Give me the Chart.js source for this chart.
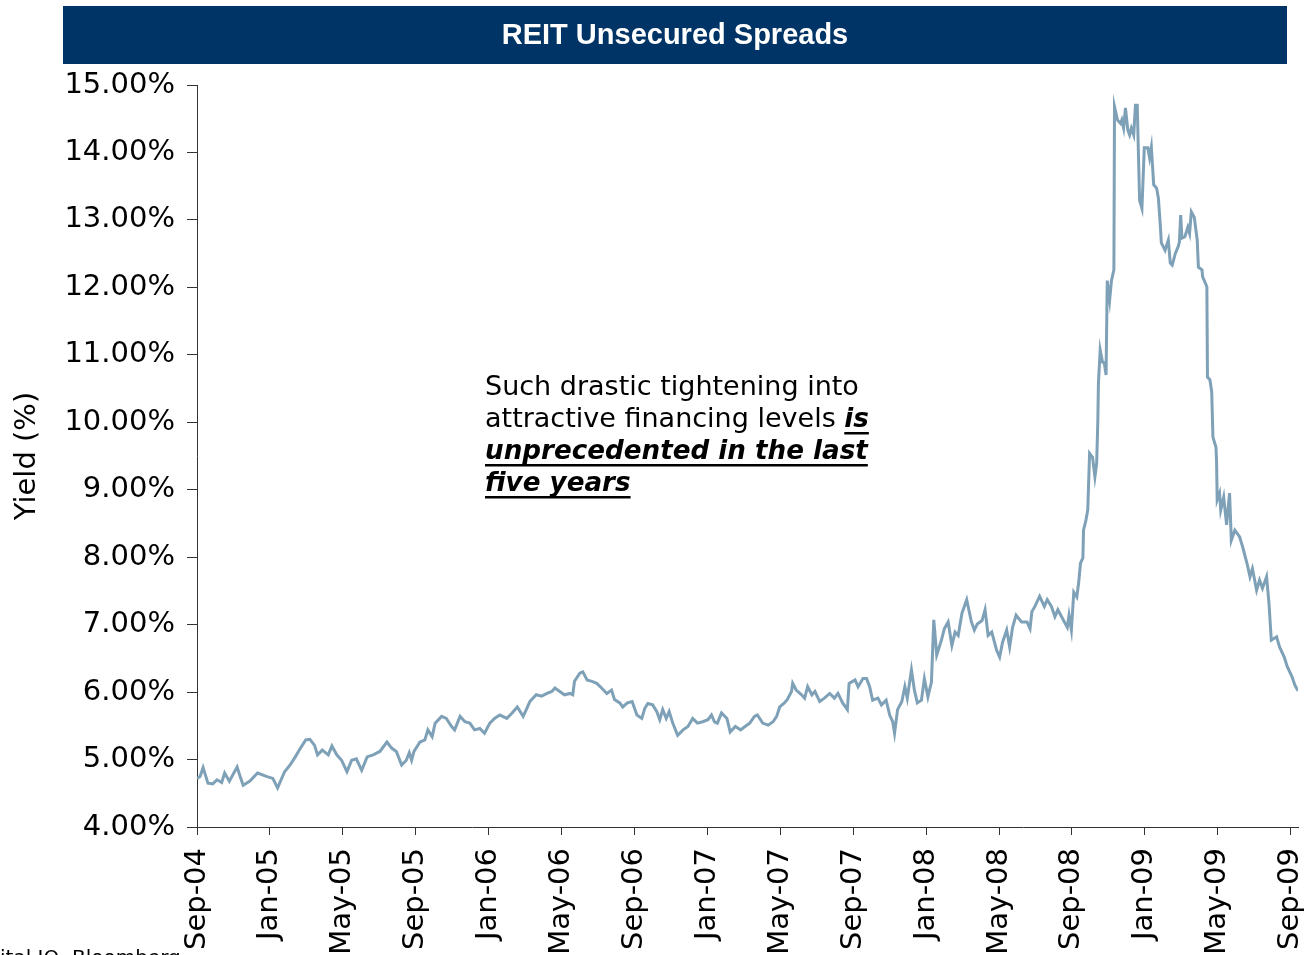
<!DOCTYPE html>
<html>
<head>
<meta charset="utf-8">
<title>REIT Unsecured Spreads</title>
<script src="https://cdn.jsdelivr.net/npm/chart.js@4.4.1/dist/chart.umd.min.js"></script>
<style>
  html, body { margin: 0; padding: 0; background: #fff; }
  canvas { display: block; }
</style>
</head>
<body>
<canvas id="spreadChart" width="1305" height="955"></canvas>
<script>
// x-axis labels, one every four months
const tickLabels = ["Sep-04", "Jan-05", "May-05", "Sep-05", "Jan-06", "May-06", "Sep-06", "Jan-07",
                    "May-07", "Sep-07", "Jan-08", "May-08", "Sep-08", "Jan-09", "May-09", "Sep-09"];

// observation dates (one row per month)
const dates = [
  "2004-09-01", "2004-09-06", "2004-09-11", "2004-09-19", "2004-09-27",
  "2004-10-04", "2004-10-12", "2004-10-17", "2004-10-25",
  "2004-11-07", "2004-11-12", "2004-11-17", "2004-11-28",
  "2004-12-11", "2004-12-26",
  "2005-01-06", "2005-01-14", "2005-01-26",
  "2005-02-04", "2005-02-12", "2005-02-20", "2005-02-28",
  "2005-03-07", "2005-03-15", "2005-03-20", "2005-03-28",
  "2005-04-07", "2005-04-13", "2005-04-21", "2005-04-29",
  "2005-05-08", "2005-05-16", "2005-05-24",
  "2005-06-02", "2005-06-11", "2005-06-21",
  "2005-07-02", "2005-07-14", "2005-07-22", "2005-07-30",
  "2005-08-08", "2005-08-16", "2005-08-21", "2005-08-25", "2005-08-29",
  "2005-09-08", "2005-09-16", "2005-09-21", "2005-09-28",
  "2005-10-03", "2005-10-14", "2005-10-22", "2005-10-31",
  "2005-11-05", "2005-11-14", "2005-11-22", "2005-11-30",
  "2005-12-08", "2005-12-17", "2005-12-25",
  "2006-01-03", "2006-01-11", "2006-01-20",
  "2006-02-01", "2006-02-09", "2006-02-17", "2006-02-26",
  "2006-03-04", "2006-03-09", "2006-03-20", "2006-03-29",
  "2006-04-07", "2006-04-15", "2006-04-20", "2006-04-28",
  "2006-05-06", "2006-05-15", "2006-05-20", "2006-05-23",
  "2006-06-01", "2006-06-06", "2006-06-13", "2006-06-21", "2006-06-29",
  "2006-07-07", "2006-07-16", "2006-07-24", "2006-07-29",
  "2006-08-07", "2006-08-12", "2006-08-20", "2006-08-28",
  "2006-09-05", "2006-09-13", "2006-09-18", "2006-09-23",
  "2006-10-01", "2006-10-08", "2006-10-13", "2006-10-18", "2006-10-24", "2006-10-29",
  "2006-11-04", "2006-11-12", "2006-11-21", "2006-11-29",
  "2006-12-07", "2006-12-15", "2006-12-24",
  "2007-01-02", "2007-01-08", "2007-01-13", "2007-01-18", "2007-01-25",
  "2007-02-03", "2007-02-08", "2007-02-16", "2007-02-24",
  "2007-03-03", "2007-03-11", "2007-03-19", "2007-03-24",
  "2007-04-02", "2007-04-11", "2007-04-19", "2007-04-25", "2007-04-30",
  "2007-05-08", "2007-05-13", "2007-05-20", "2007-05-22", "2007-05-28",
  "2007-06-06", "2007-06-11", "2007-06-16", "2007-06-23", "2007-06-28",
  "2007-07-06", "2007-07-14", "2007-07-23", "2007-07-31",
  "2007-08-06", "2007-08-14", "2007-08-22", "2007-08-25",
  "2007-09-04", "2007-09-09", "2007-09-17", "2007-09-23", "2007-09-28",
  "2007-10-03", "2007-10-12", "2007-10-18", "2007-10-26",
  "2007-11-01", "2007-11-06", "2007-11-09", "2007-11-14", "2007-11-21", "2007-11-26", "2007-11-30",
  "2007-12-07", "2007-12-12", "2007-12-17", "2007-12-24", "2007-12-29",
  "2008-01-04", "2008-01-10", "2008-01-14", "2008-01-19", "2008-01-27",
  "2008-02-01", "2008-02-07", "2008-02-13", "2008-02-18", "2008-02-23", "2008-02-29",
  "2008-03-08", "2008-03-16", "2008-03-21", "2008-03-26",
  "2008-04-03", "2008-04-08", "2008-04-13", "2008-04-19", "2008-04-27",
  "2008-05-02", "2008-05-07", "2008-05-14", "2008-05-19", "2008-05-24", "2008-05-30",
  "2008-06-08", "2008-06-17", "2008-06-22", "2008-06-25", "2008-06-30",
  "2008-07-08", "2008-07-16", "2008-07-21", "2008-07-28",
  "2008-08-03", "2008-08-08", "2008-08-16", "2008-08-24", "2008-08-27", "2008-08-31",
  "2008-09-04", "2008-09-09", "2008-09-12", "2008-09-15", "2008-09-19", "2008-09-20", "2008-09-24", "2008-09-27", "2008-09-30",
  "2008-10-05", "2008-10-09", "2008-10-12", "2008-10-14", "2008-10-15", "2008-10-18", "2008-10-22", "2008-10-25", "2008-10-28", "2008-10-30",
  "2008-11-03", "2008-11-06", "2008-11-10", "2008-11-11", "2008-11-16", "2008-11-21", "2008-11-23", "2008-11-26", "2008-11-29",
  "2008-12-03", "2008-12-06", "2008-12-09", "2008-12-13", "2008-12-16", "2008-12-19", "2008-12-23", "2008-12-27", "2008-12-31",
  "2009-01-06", "2009-01-09", "2009-01-12", "2009-01-16", "2009-01-21", "2009-01-24", "2009-01-27", "2009-01-29",
  "2009-02-04", "2009-02-09", "2009-02-12", "2009-02-15", "2009-02-20", "2009-02-24", "2009-02-26", "2009-02-28",
  "2009-03-02", "2009-03-07", "2009-03-12", "2009-03-15", "2009-03-18", "2009-03-23", "2009-03-28", "2009-03-30",
  "2009-04-05", "2009-04-06", "2009-04-13", "2009-04-14", "2009-04-18", "2009-04-21", "2009-04-23", "2009-04-28", "2009-04-29", "2009-04-30",
  "2009-05-04", "2009-05-06", "2009-05-11", "2009-05-16", "2009-05-21", "2009-05-24", "2009-05-30",
  "2009-06-07", "2009-06-12", "2009-06-19", "2009-06-24", "2009-06-28",
  "2009-07-05", "2009-07-10", "2009-07-15", "2009-07-22", "2009-07-26", "2009-07-30",
  "2009-08-08", "2009-08-13", "2009-08-21", "2009-08-26",
  "2009-09-03", "2009-09-08", "2009-09-13"
];

// yield in %, same rows as dates
const yields = [
  4.72, 4.75, 4.88, 4.65, 4.64,
  4.70, 4.66, 4.80, 4.68,
  4.89, 4.75, 4.62, 4.68,
  4.80, 4.75,
  4.72, 4.58, 4.82,
  4.92, 5.04, 5.17, 5.29,
  5.30, 5.21, 5.07, 5.14,
  5.07, 5.20, 5.07, 4.99,
  4.82, 4.99, 5.01,
  4.84, 5.04, 5.07,
  5.12, 5.26, 5.17, 5.12,
  4.92, 4.99, 5.10, 4.99, 5.12,
  5.26, 5.29, 5.44, 5.34,
  5.54, 5.64, 5.61, 5.49,
  5.44, 5.64, 5.56, 5.54,
  5.44, 5.46, 5.39,
  5.54, 5.61, 5.66,
  5.61, 5.69, 5.78, 5.64,
  5.76, 5.86, 5.96, 5.94,
  5.98, 6.01, 6.06, 6.01,
  5.96, 5.98, 5.96, 6.16,
  6.28, 6.30, 6.18, 6.16, 6.13,
  6.06, 5.98, 6.03, 5.89,
  5.84, 5.78, 5.84, 5.86,
  5.66, 5.61, 5.76, 5.83,
  5.81, 5.71, 5.59, 5.74, 5.61, 5.71,
  5.54, 5.36, 5.44, 5.49,
  5.61, 5.54, 5.56,
  5.59, 5.66, 5.56, 5.54, 5.69,
  5.61, 5.41, 5.49, 5.44,
  5.49, 5.54, 5.64, 5.66,
  5.54, 5.51, 5.56, 5.64, 5.78,
  5.84, 5.89, 6.01, 6.13, 6.03,
  5.96, 5.91, 6.08, 5.96, 6.01,
  5.86, 5.91, 5.98, 5.91,
  5.98, 5.84, 5.74, 6.13,
  6.18, 6.08, 6.20, 6.20, 6.08,
  5.88, 5.91, 5.81, 5.88,
  5.66, 5.56, 5.39, 5.74, 5.86, 6.08, 5.91,
  6.33, 6.03, 5.84, 5.88, 6.20,
  5.93, 6.15, 7.07, 6.55, 6.77,
  6.94, 7.04, 6.69, 6.89, 6.84, 7.17,
  7.37, 7.04, 6.92, 7.01,
  7.06, 7.22, 6.84, 6.89, 6.62,
  6.52, 6.74, 6.92, 6.67, 6.96, 7.14,
  7.04, 7.04, 6.94, 7.19, 7.27,
  7.42, 7.27, 7.37, 7.27,
  7.12, 7.22, 7.09, 6.96, 7.14, 6.92,
  7.48, 7.41, 7.62, 7.91, 7.99, 8.40, 8.55, 8.70, 9.54,
  9.48, 9.19, 9.39, 10.03, 10.58, 11.07, 10.89, 10.88, 10.70, 12.10,
  11.81, 12.10, 12.26, 14.68, 14.48, 14.43, 14.48, 14.36, 14.66,
  14.33, 14.26, 14.36, 14.26, 14.70, 14.70, 13.29, 13.17, 14.07,
  14.07, 13.92, 14.08, 13.52, 13.47, 13.32, 12.95, 12.66,
  12.55, 12.70, 12.36, 12.33, 12.51, 12.60, 12.67, 13.07,
  12.73, 12.75, 12.89, 12.80, 13.12, 13.04, 12.70, 12.30,
  12.26, 12.16, 12.01, 10.67, 10.63, 10.45, 9.78, 9.63, 9.41, 8.85,
  8.95, 8.70, 8.89, 8.48, 8.95, 8.25, 8.40,
  8.30, 8.15, 7.91, 7.71, 7.83,
  7.51, 7.66, 7.54, 7.71, 7.32, 6.77,
  6.82, 6.67, 6.52, 6.38,
  6.23, 6.10, 6.02
];

const FONT = '"DejaVu Sans", Verdana, sans-serif';

// months elapsed since 1 Sep 2004, with the day as a fraction of its month
function monthOffset(s) {
  const [y, m, d] = s.split('-').map(Number);
  const days = new Date(y, m, 0).getDate();
  return (y - 2004) * 12 + (m - 9) + (d - 1) / days;
}

const points = dates.map((d, i) => ({ x: monthOffset(d), y: yields[i] }));
const lastX = points[points.length - 1].x;

// navy header bar and white background
const headerBar = {
  id: 'headerBar',
  beforeDraw(chart) {
    const ctx = chart.ctx;
    ctx.save();
    ctx.fillStyle = '#fff';
    ctx.fillRect(0, 0, chart.width, chart.height);
    ctx.fillStyle = '#003466';
    ctx.fillRect(63, 6, 1224, 58);
    ctx.fillStyle = '#fff';
    ctx.font = 'bold 29px "Liberation Sans", Arial, sans-serif';
    ctx.textAlign = 'center';
    ctx.textBaseline = 'middle';
    ctx.fillText('REIT Unsecured Spreads', 675, 36);
    ctx.restore();
  }
};

// callout text and source line
const callout = {
  id: 'callout',
  afterDraw(chart) {
    const ctx = chart.ctx;
    const x = 485;
    const normal = '27px ' + FONT;
    const strong = 'italic bold 26.2px ' + FONT;
    ctx.save();
    ctx.fillStyle = '#000';
    ctx.textAlign = 'left';
    ctx.textBaseline = 'alphabetic';

    const underlined = (text, tx, ty) => {
      ctx.font = strong;
      ctx.fillText(text, tx, ty);
      ctx.fillRect(tx, ty + 5, ctx.measureText(text).width, 2.5);
    };

    ctx.font = normal;
    ctx.fillText('Such drastic tightening into', x, 395);
    const lead = 'attractive financing levels ';
    ctx.fillText(lead, x, 427);
    const leadW = ctx.measureText(lead).width;
    underlined('is', x + leadW, 427);
    underlined('unprecedented in the last', x, 459);
    underlined('five years', x, 491);

    // source line, mostly below the page edge
    ctx.font = '20px ' + FONT;
    ctx.textBaseline = 'top';
    const src = 'Source: Capital IQ, Bloomberg';
    const cut = ctx.measureText('Source: Cap').width;
    ctx.fillText(src, -cut, 949);
    ctx.restore();
  }
};

new Chart(document.getElementById('spreadChart'), {
  type: 'line',
  data: {
    datasets: [{
      label: 'REIT Unsecured Yield',
      data: points,
      borderColor: '#7ea1b8',
      borderWidth: 3,
      pointRadius: 0,
      tension: 0,
      fill: false
    }]
  },
  options: {
    responsive: false,
    animation: false,
    devicePixelRatio: 1,
    layout: { padding: { top: 85, right: 7, bottom: 0, left: 0 } },
    plugins: {
      legend: { display: false },
      tooltip: { enabled: false }
    },
    scales: {
      x: {
        type: 'linear',
        min: 0,
        max: lastX,
        afterBuildTicks: (scale) => {
          scale.ticks = tickLabels.map((_, i) => ({ value: i * 4 }));
        },
        afterFit: (scale) => {
          // keep the rotated end labels from squeezing the plot
          scale.height = 128;
          scale.paddingLeft = 0;
          scale.paddingRight = 0;
        },
        grid: { drawOnChartArea: false, tickLength: 8, color: '#333' },
        border: { color: '#333', width: 1 },
        ticks: {
          autoSkip: false,
          minRotation: 90,
          maxRotation: 90,
          padding: 13,
          color: '#000',
          font: { family: FONT, size: 29 },
          callback: (value, index) => tickLabels[index]
        }
      },
      y: {
        min: 4,
        max: 15,
        afterFit: (scale) => { scale.width = 197; },
        grid: { drawOnChartArea: false, tickLength: 10, color: '#333' },
        border: { color: '#333', width: 1 },
        title: {
          display: true,
          text: 'Yield (%)',
          color: '#000',
          font: { family: FONT, size: 29 },
          padding: { top: 10, bottom: 0 }
        },
        ticks: {
          stepSize: 1,
          padding: 12,
          color: '#000',
          font: { family: FONT, size: 29 },
          callback: (v) => v.toFixed(2) + '%'
        }
      }
    }
  },
  plugins: [headerBar, callout]
});
</script>
</body>
</html>
